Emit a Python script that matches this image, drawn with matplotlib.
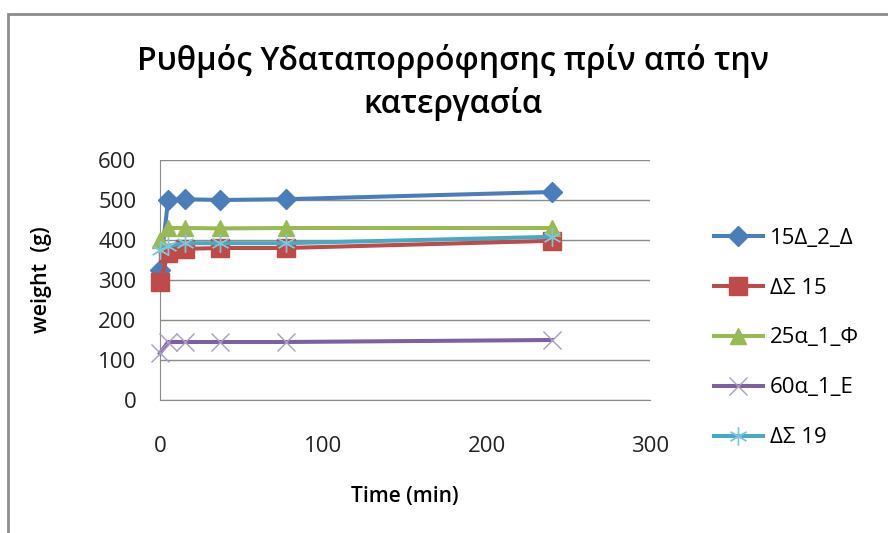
import matplotlib.pyplot as plt
from matplotlib.patches import Rectangle

plt.rcParams['font.family'] = ['Open Sans', 'DejaVu Sans']

time_min = [0, 5, 15, 37, 77, 240]
w_15d_2_d = [325, 500, 502, 500, 502, 520]
w_ds15 = [295, 367, 378, 380, 380, 398]
w_25a_1_f = [400, 430, 430, 429, 430, 430]
w_60a_1_e = [117, 145, 145, 145, 145, 150]
w_ds19 = [375, 385, 392, 392, 392, 408]

series = [
    ("15Δ_2_Δ", w_15d_2_d, "#4A7EBB", "D", 10, "#4A7EBB"),
    ("ΔΣ 15", w_ds15, "#BE4B48", "s", 13, "#BE4B48"),
    ("25α_1_Φ", w_25a_1_f, "#98B954", "^", 11, "#98B954"),
    ("60α_1_E", w_60a_1_e, "#7D60A0", "x", 13, "#A99BC4"),
    ("ΔΣ 19", w_ds19, "#46AAC5", (6, 2, 0), 13, "#7FC6DA"),
]

fig = plt.figure(figsize=(8.88, 5.33), dpi=100)
fig.patches.append(Rectangle((8 / 888, -0.01), 1.0, 1 - 14 / 533 + 0.01,
                             transform=fig.transFigure, fill=False,
                             edgecolor="#8C8C8C", linewidth=2))

ax = fig.add_axes([160 / 888, 1 - 400 / 533, 490 / 888, 240 / 533])

for name, vals, col, mk, ms, mcol in series:
    ax.plot(time_min, vals, color=col, linewidth=2.9, marker=mk, markersize=ms,
            markerfacecolor=mcol, markeredgecolor=mcol, markeredgewidth=1.0,
            label=name, clip_on=False, zorder=3)

ax.set_xlim(0, 300)
ax.set_ylim(0, 600)
ax.set_xticks([0, 100, 200, 300])
ax.set_yticks(range(0, 601, 100))
ax.grid(axis="y", color="#8C8C8C", linewidth=1)
ax.set_axisbelow(True)
for s in ["top", "right"]:
    ax.spines[s].set_visible(False)
for s in ["left", "bottom"]:
    ax.spines[s].set_color("#8C8C8C")
ax.tick_params(length=0, labelsize=16, colors="#222222")
ax.tick_params(axis="x", pad=26)
ax.tick_params(axis="y", pad=17)

ax.set_xlabel("Time (min)", fontsize=15, fontweight="semibold", labelpad=21)
ax.set_ylabel("weight  (g)", fontsize=15.5, fontweight="semibold", labelpad=33)

fig.text(453 / 888, 1 - 61 / 533, "Ρυθμός Υδαταπορρόφησης πρίν από την",
         fontsize=23, fontweight="semibold", ha="center", va="center")
fig.text(453 / 888, 1 - 104 / 533, "κατεργασία", fontsize=23,
         fontweight="semibold", ha="center", va="center")

ax.legend(loc="center left", bbox_to_anchor=(694 / 888, 1 - 338 / 533),
          bbox_transform=fig.transFigure, frameon=False, fontsize=16,
          handlelength=2.2, labelspacing=1.3, handletextpad=0.3)

fig.savefig("out.png", dpi=100)
